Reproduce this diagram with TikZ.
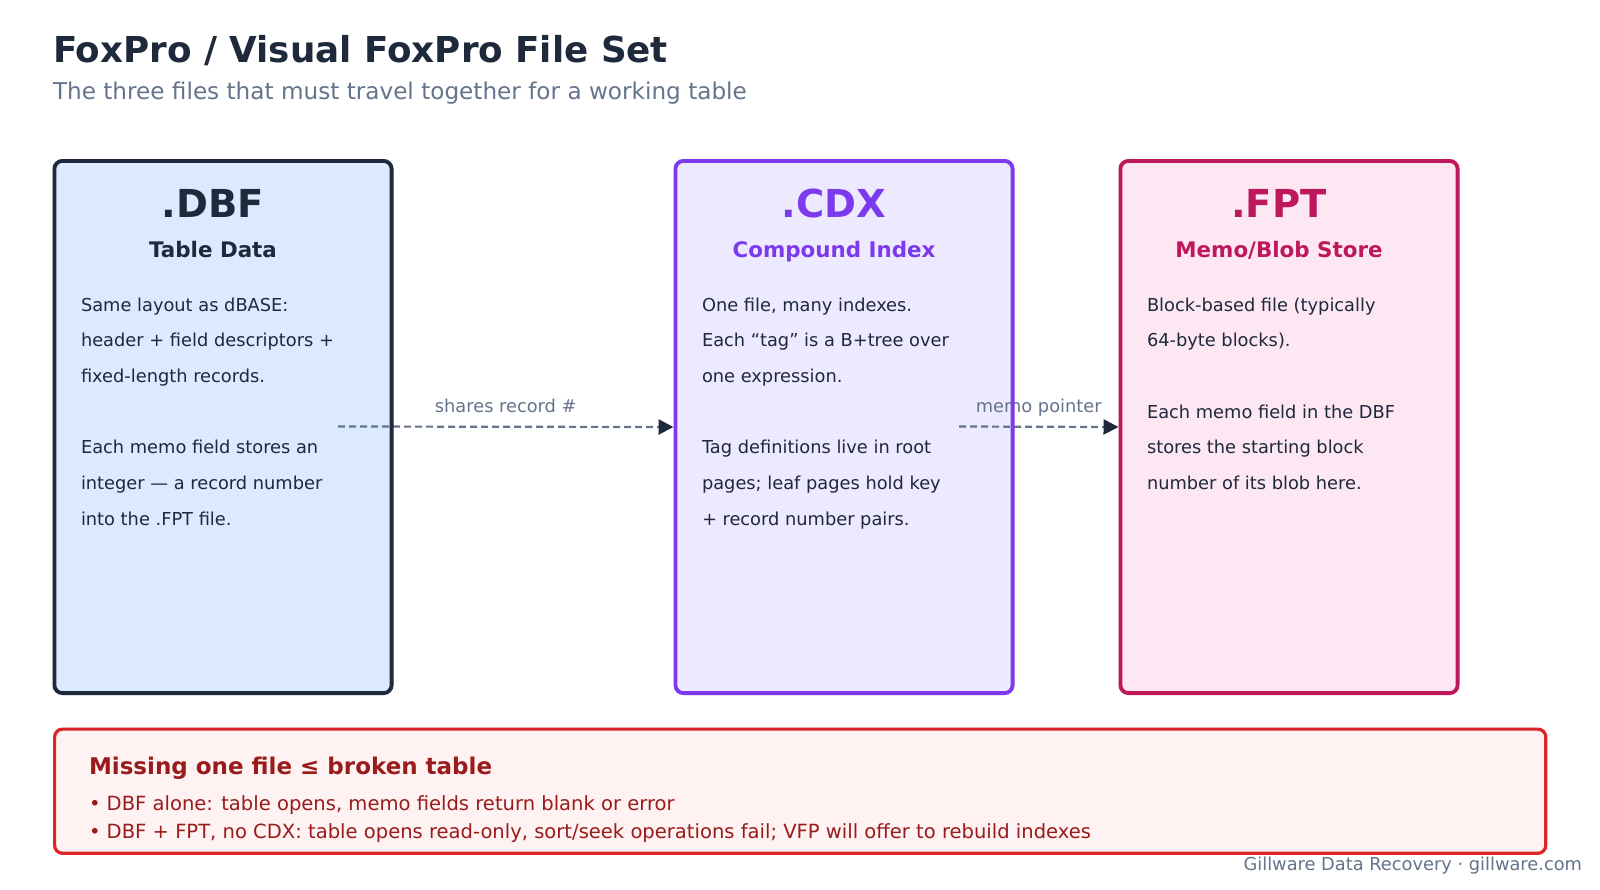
\documentclass[tikz,border=0pt]{standalone}
\usepackage{fontspec}
\setmainfont{DejaVu Sans}
\usetikzlibrary{arrows.meta}

\definecolor{ink}{HTML}{1E293B}
\definecolor{muted}{HTML}{64748B}
\definecolor{dbffill}{HTML}{DBEAFE}
\definecolor{cdxline}{HTML}{7C3AED}
\definecolor{cdxfill}{HTML}{EDE9FE}
\definecolor{fptline}{HTML}{BE185D}
\definecolor{fptfill}{HTML}{FCE7F3}
\definecolor{warnline}{HTML}{DC2626}
\definecolor{warnfill}{HTML}{FEF2F2}
\definecolor{warnink}{HTML}{991B1B}

\newcommand\fs[1]{\fontsize{#1}{#1}\selectfont}

\begin{document}
\begin{tikzpicture}[x=1pt,y=-1pt,
  txt/.style={inner sep=0pt, outer sep=0pt},
  filebox/.style={rectangle, rounded corners=9pt, inner sep=0pt, outer sep=0pt,
    minimum width=341pt, minimum height=536pt, anchor=north west},
  rim/.style={line width=3.8pt, rounded corners=8pt},
  boxtitle/.style={txt, anchor=base, font=\fs{38.5}\bfseries},
  boxsub/.style={txt, anchor=base, font=\fs{21.4}\bfseries},
  body/.style={txt, anchor=base west, font=\fs{17.8}, text=ink},
  link/.style={muted, line width=2.2pt, dash pattern=on 7pt off 4pt,
    -{Triangle[length=15pt,width=15pt,color=ink]}},
  lbl/.style={txt, anchor=base, font=\fs{17.8}, text=muted, yshift=14.5pt},
]
\useasboundingbox[fill=white] (0,0) rectangle (1600,889);

% heading
\node[txt, anchor=base west, font=\fs{35.7}\bfseries, text=ink] (title) at (53,62)
  {FoxPro / Visual FoxPro File Set};
\node[txt, anchor=base west, font=\fs{23.15}, text=muted] (subtitle) at (53,99)
  {The three files that must travel together for a working table};

% file cards (fills first, rims are stroked after the connectors)
\node[filebox, fill=dbffill] (dbf) at (52.5,159) {};
\node[filebox, fill=cdxfill] (cdx) at (673.5,159) {};
\node[filebox, fill=fptfill] (fpt) at (1118.5,159) {};

% connectors
\coordinate (dbfout) at (338,426.5);
\coordinate (cdxout) at (959,426.5);
\draw[link] (dbfout) -- (cdx.west) node[midway, lbl] (l1) {shares record \#};
\draw[link] (cdxout) -- (fpt.west) node[midway, lbl] (l2) {memo pointer};

% card rims
\draw[rim, ink]     ([shift={(1.9,1.9)}]dbf.north west) rectangle ([shift={(-1.9,-1.9)}]dbf.south east);
\draw[rim, cdxline] ([shift={(1.9,1.9)}]cdx.north west) rectangle ([shift={(-1.9,-1.9)}]cdx.south east);
\draw[rim, fptline] ([shift={(1.9,1.9)}]fpt.north west) rectangle ([shift={(-1.9,-1.9)}]fpt.south east);

% .DBF card
\node[boxtitle, text=ink] (dbft) at (213,217) {.DBF};
\node[boxsub, text=ink] (dbfs) at (213,257) {Table Data};
\foreach \k/\t in {0/{Same layout as dBASE:}, 1/{header + field descriptors +}, 2/{fixed-length records.},
                   4/{Each memo field stores an}, 5/{integer — a record number}, 6/{into the .FPT file.}}
  \node[body, name=dbfb\k] at (81,311+35.7*\k) {\t};

% .CDX card
\node[boxtitle, text=cdxline] (cdxt) at (834,217) {.CDX};
\node[boxsub, text=cdxline] (cdxs) at (834,257) {Compound Index};
\foreach \k/\t in {0/{One file, many indexes.}, 1/{Each “tag” is a B+tree over}, 2/{one expression.},
                   4/{Tag definitions live in root}, 5/{pages; leaf pages hold key}, 6/{+ record number pairs.}}
  \node[body, name=cdxb\k] at (702,311+35.7*\k) {\t};

% .FPT card
\node[boxtitle, text=fptline] (fptt) at (1279,217) {.FPT};
\node[boxsub, text=fptline] (fpts) at (1279,257) {Memo/Blob Store};
\foreach \k/\t in {0/{Block-based file (typically}, 1/{64-byte blocks).},
                   3/{Each memo field in the DBF}, 4/{stores the starting block}, 5/{number of its blob here.}}
  \node[body, name=fptb\k] at (1147,311+35.7*\k) {\t};

% warning panel
\node[rectangle, rounded corners=9pt, inner sep=0pt, anchor=north west,
      minimum width=1494pt, minimum height=127pt, fill=warnfill] (warn) at (53,727.5) {};
\draw[line width=3.2pt, warnline, rounded corners=8pt]
  ([shift={(1.6,1.6)}]warn.north west) rectangle ([shift={(-1.6,-1.6)}]warn.south east);
\node[txt, anchor=base west, font=\fs{23}\bfseries, text=warnink] (warnt) at (89,774)
  {Missing one file ≤ broken table};
\node[txt, anchor=base west, font=\fs{19.55}, text=warnink] (warn1) at (89,810.5)
  {• DBF alone: table opens, memo fields return blank or error};
\node[txt, anchor=base west, font=\fs{19.55}, text=warnink] (warn2) at (89,838.5)
  {• DBF + FPT, no CDX: table opens read-only, sort/seek operations fail; VFP will offer to rebuild indexes};

% credit line
\node[txt, anchor=base east, font=\fs{17.8}, text=muted] (credit) at (1582,870)
  {Gillware Data Recovery · gillware.com};
\end{tikzpicture}
\end{document}
